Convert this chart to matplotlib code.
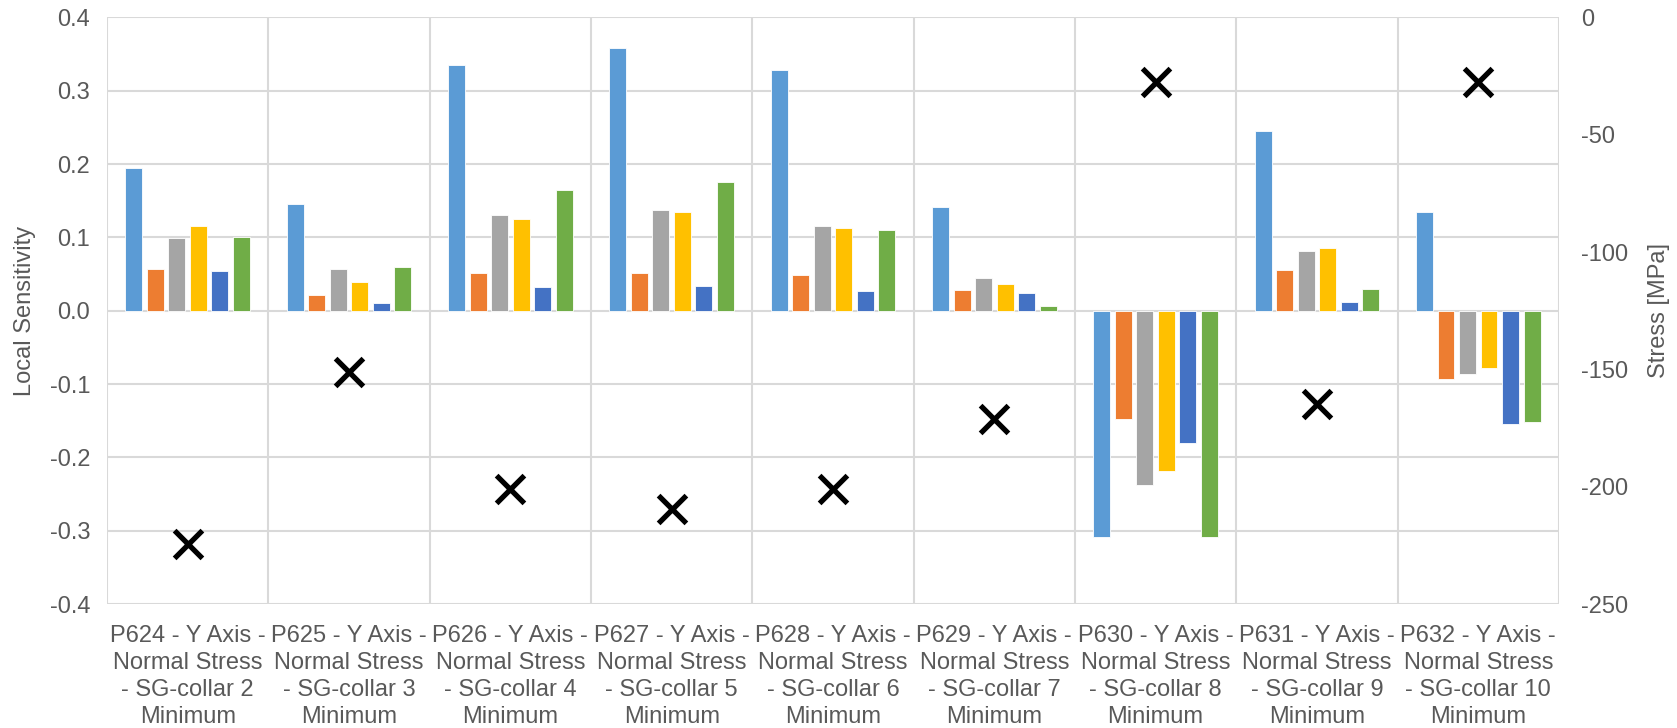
import matplotlib
matplotlib.use("Agg")
import matplotlib.pyplot as plt
import numpy as np

plt.rcParams['font.family'] = ['Liberation Sans', 'DejaVu Sans']
plt.rcParams['axes.unicode_minus'] = False

categories = [
    "P624 - Y Axis -\nNormal Stress\n- SG-collar 2\nMinimum",
    "P625 - Y Axis -\nNormal Stress\n- SG-collar 3\nMinimum",
    "P626 - Y Axis -\nNormal Stress\n- SG-collar 4\nMinimum",
    "P627 - Y Axis -\nNormal Stress\n- SG-collar 5\nMinimum",
    "P628 - Y Axis -\nNormal Stress\n- SG-collar 6\nMinimum",
    "P629 - Y Axis -\nNormal Stress\n- SG-collar 7\nMinimum",
    "P630 - Y Axis -\nNormal Stress\n- SG-collar 8\nMinimum",
    "P631 - Y Axis -\nNormal Stress\n- SG-collar 9\nMinimum",
    "P632 - Y Axis -\nNormal Stress\n- SG-collar 10\nMinimum",
]

# Local sensitivities of the six input parameters, one list per parameter
param_1 = [0.195, 0.146, 0.335, 0.359, 0.328, 0.142, -0.309, 0.245, 0.134]
param_2 = [0.057, 0.022, 0.052, 0.051, 0.049, 0.028, -0.147, 0.056, -0.093]
param_3 = [0.099, 0.057, 0.131, 0.137, 0.116, 0.044, -0.237, 0.082, -0.086]
param_4 = [0.115, 0.039, 0.125, 0.134, 0.113, 0.036, -0.218, 0.085, -0.078]
param_5 = [0.054, 0.011, 0.032, 0.034, 0.027, 0.024, -0.180, 0.012, -0.155]
param_6 = [0.101, 0.060, 0.165, 0.176, 0.110, 0.006, -0.309, 0.030, -0.152]

# Minimum normal stress at each strain gauge [MPa]
stress = [-224.5, -151.0, -201.0, -209.5, -201.0, -171.0, -27.3, -164.8, -27.7]

# Left axis tick labels
sens_ticks = [-0.4, -0.3, -0.2, -0.1, 0.0, 0.1, 0.2, 0.3, 0.4]
sens_labels = ["-0.4", "-0.3", "-0.2", "-0.1", "0.0", "0.1", "0.2", "0.3", "0.4"]
# Right axis ticks
stress_ticks = [-250, -200, -150, -100, -50, 0]

series = [param_1, param_2, param_3, param_4, param_5, param_6]
colors = ["#5B9BD5", "#ED7D31", "#A5A5A5", "#FFC000", "#4472C4", "#70AD47"]

text_color = "#595959"
grid_color = "#D9D9D9"
fs = 17

fig = plt.figure(figsize=(16.77, 7.28), dpi=100)
ax = fig.add_axes([0.0638, 0.1703, 0.8658, 0.8057])
ax2 = ax.twinx()

x = np.arange(len(categories))
step = 0.1333
width = 0.105
offsets = (np.arange(len(series)) - (len(series) - 1) / 2) * step

for vals, col, off in zip(series, colors, offsets):
    ax.bar(x + off, vals, width=width, color=col, edgecolor="white",
           linewidth=0.6, zorder=3)

ax.set_xlim(-0.5, len(categories) - 0.5)
ax.set_ylim(-0.4, 0.4)
ax.set_yticks(sens_ticks)
ax.set_yticklabels(sens_labels)
ax.yaxis.grid(True, color=grid_color, linewidth=1.5, zorder=0)
for b in np.arange(-0.5, len(categories), 1.0):
    ax.axvline(b, color=grid_color, linewidth=1.5, zorder=0)
ax.set_axisbelow(True)

ax.set_xticks(x)
ax.set_xticklabels(categories, fontsize=fs, color=text_color, linespacing=1.3)
ax.tick_params(axis="x", length=0, pad=15)
ax.tick_params(axis="y", length=0, labelsize=fs, labelcolor=text_color, pad=12)
ax.set_ylabel("Local Sensitivity", fontsize=fs, color=text_color, labelpad=10)

for sp in ax.spines.values():
    sp.set_visible(False)
for sp in ax2.spines.values():
    sp.set_visible(False)

ax2.scatter(x, stress, marker="x", s=400, linewidths=3.8, color="black", zorder=5)
ax2.set_ylim(-250, 0)
ax2.set_yticks(stress_ticks)
ax2.set_yticklabels([str(v) for v in stress_ticks])
ax2.tick_params(axis="y", length=0, labelsize=fs, labelcolor=text_color, pad=16)
ax2.set_ylabel("Stress [MPa]", fontsize=fs, color=text_color, labelpad=14)

fig.savefig("out.png", dpi=100, facecolor="white")
